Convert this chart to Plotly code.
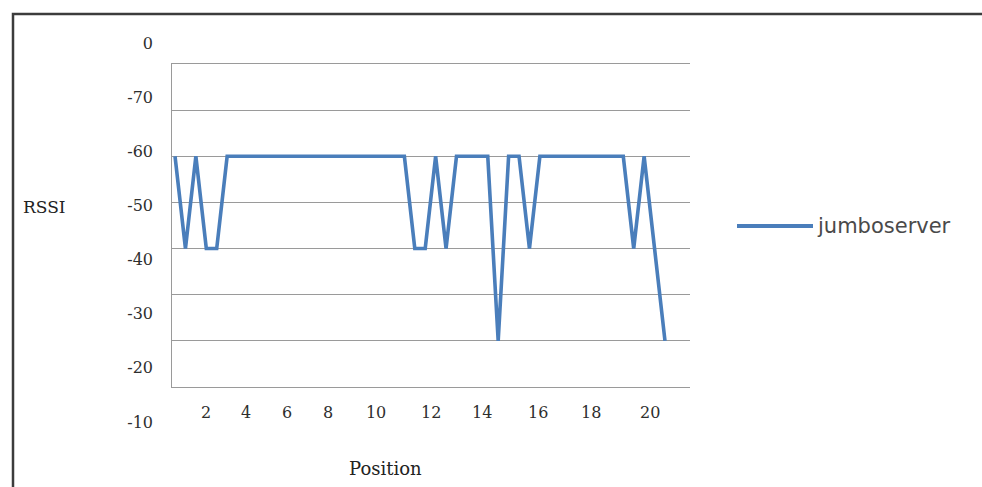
import plotly.graph_objects as go

# RSSI readings (dBm) for the jumboserver access point, one per sample step
sample = list(range(48))
rssi = [
    -60, -40, -60, -40, -40, -60, -60, -60, -60, -60,
    -60, -60, -60, -60, -60, -60, -60, -60, -60, -60,
    -60, -60, -60, -40, -40, -60, -40, -60, -60, -60,
    -60, -20, -60, -60, -40, -60, -60, -60, -60, -60,
    -60, -60, -60, -60, -40, -60, -40, -20,
]
series_name = "jumboserver"

# Axis tick labels
position_labels = ["2", "4", "6", "8", "10", "12", "14", "16", "18", "20"]
rssi_labels = ["0", "-70", "-60", "-50", "-40", "-30", "-20", "-10"]

# Layout helpers (sample index at which each position label sits)
XTICK_AT = [2.98, 6.81, 10.75, 14.68, 19.29, 24.57, 29.46, 34.84, 39.92, 45.59]
YLABEL_AT = [-80, -70, -60, -50, -40, -30, -20, -10]

LINE_BLUE = "#4A7EBB"
GRID = "#9a9a9a"
TEXT = "#2e2e2e"
SERIF = "DejaVu Serif"

W, H = 982, 487
ML, MR, MT, MB = 172, 292, 30, 47
PW, PH = W - ML - MR, H - MT - MB


def px(x):
    return (x - ML) / PW


def py(y):
    return (H - MB - y) / PH


fig = go.Figure()
fig.add_trace(go.Scatter(
    x=sample, y=rssi, mode="lines", name=series_name,
    line=dict(color=LINE_BLUE, width=3.6),
    showlegend=False, xaxis="x", yaxis="y",
))
# carrier trace for the labelled RSSI scale
fig.add_trace(go.Scatter(
    x=[None], y=[None], mode="lines", showlegend=False,
    hoverinfo="skip", xaxis="x", yaxis="y2",
))

fig.update_layout(
    width=W, height=H,
    margin=dict(l=ML, r=MR, t=MT, b=MB),
    paper_bgcolor="white", plot_bgcolor="rgba(0,0,0,0)",
    xaxis=dict(
        range=[-0.29, 49.4], anchor="y",
        tickvals=XTICK_AT, ticktext=position_labels,
        ticks="", showgrid=False, zeroline=False,
        showline=True, linecolor=GRID, linewidth=1.3, mirror=True,
        tickfont=dict(family=SERIF, size=16, color=TEXT),
        ticklabelstandoff=11,
    ),
    yaxis=dict(
        range=[-10, -80], domain=[py(387), py(64)], anchor="x",
        tickvals=[-70, -60, -50, -40, -30, -20],
        showticklabels=False, ticks="",
        showgrid=True, gridcolor=GRID, gridwidth=1.3,
        zeroline=False, showline=True, linecolor=GRID, linewidth=1.3,
    ),
    yaxis2=dict(
        range=[-6.68, -82.4], domain=[0, 1], anchor="x",
        tickvals=YLABEL_AT, ticktext=rssi_labels,
        ticks="", showgrid=False, zeroline=False, showline=False,
        tickfont=dict(family=SERIF, size=16, color=TEXT),
        ticklabelstandoff=18,
    ),
    shapes=[
        # outer chart frame
        dict(type="rect", xref="paper", yref="paper",
             x0=px(13), x1=px(1100), y0=py(600), y1=py(14),
             line=dict(color="#3c3c3c", width=2.5)),
        # legend key
        dict(type="line", xref="paper", yref="paper",
             x0=px(737), x1=px(813), y0=py(226), y1=py(226),
             line=dict(color=LINE_BLUE, width=4)),
    ],
    annotations=[
        dict(text=series_name, xref="paper", yref="paper",
             x=px(815), y=py(226), xanchor="left", yanchor="middle",
             showarrow=False,
             font=dict(family="DejaVu Sans", size=21, color="#4a4a4a")),
        dict(text="RSSI", xref="paper", yref="paper",
             x=px(44), y=py(207), xanchor="center", yanchor="middle",
             showarrow=False, font=dict(family=SERIF, size=17, color="#222222")),
        dict(text="Position", xref="paper", yref="paper",
             x=px(385), y=py(468), xanchor="center", yanchor="middle",
             showarrow=False, font=dict(family=SERIF, size=18, color="#222222")),
    ],
)

fig.write_html("out.html")
